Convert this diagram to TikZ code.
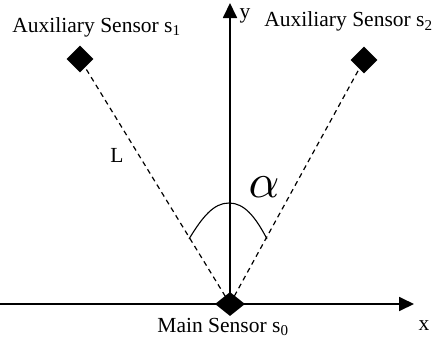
\documentclass[tikz,border=0pt]{standalone}
\usepackage{fontspec}
\setmainfont{Liberation Serif}
\usetikzlibrary{arrows.meta,shapes.geometric}
\begin{document}
\begin{tikzpicture}[x=1pt,y=-1pt,
  lbl/.style={inner sep=0pt,anchor=base,font=\fontsize{21.5}{23}\selectfont},
  axis/.style={line width=1.8pt,-{Triangle[length=15pt,width=14pt]}},
  sensor/.style={diamond,fill=black,inner sep=0pt,minimum width=#1,minimum height=#1},
  dash line/.style={line width=1.2pt,dash pattern=on 5pt off 4pt}]
\useasboundingbox (0,0) rectangle (436,340);
\coordinate (o) at (230,304);
\coordinate (xstart) at (0,304);
\coordinate (xend) at (414,304);
\coordinate (yend) at (230,3);
\draw[dash line] (o) -- (80,59) coordinate (p1);
\draw[dash line] (o) -- (364,60) coordinate (p2);
\draw[axis] (xstart) -- (xend);
\draw[axis] (o) -- (yend);
\node[sensor=27pt] (s1) at (p1) {};
\node[sensor=27pt] (s2) at (p2) {};
\node[diamond,fill=black,inner sep=0pt,minimum width=30pt,minimum height=24pt] (s0) at (o) {};
\coordinate (a1) at (189,239);
\coordinate (a2) at (267,239);
\draw[line width=1.1pt] (a1) .. controls (203,216) and (214,203) .. (229,203) coordinate (atop) .. controls (244,203) and (255,216) .. (a2);
\node[lbl] (t1) at (96.5,32) {Auxiliary Sensor s\textsubscript{1}};
\node[lbl] (t2) at (348.5,27) {Auxiliary Sensor s\textsubscript{2}};
\node[lbl] (t0) at (223,332) {Main Sensor s\textsubscript{0}};
\node[lbl] (L) at (117,162) {L};
\node[lbl] (ylab) at (245,18) {y};
\node[lbl] (xlab) at (424,330) {x};
\node[inner sep=0pt,anchor=base] (al) at (264,197) {\scalebox{4.8}{$\alpha$}};
\end{tikzpicture}
\end{document}
